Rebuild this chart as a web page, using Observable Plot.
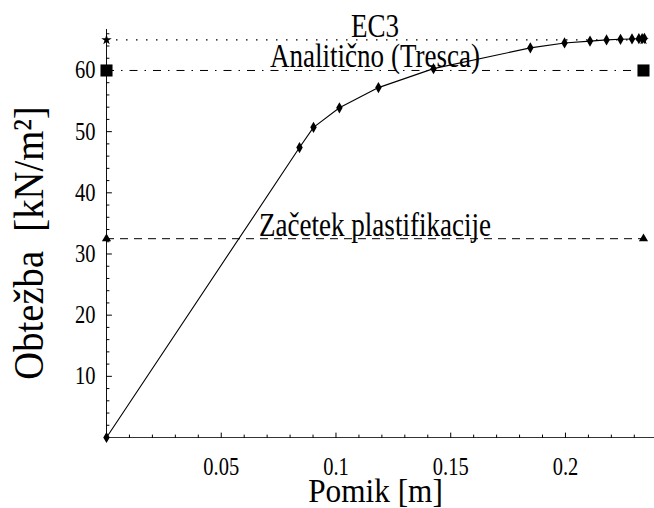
<!DOCTYPE html>
<html>
<head>
<meta charset="utf-8">
<script src="https://cdn.jsdelivr.net/npm/d3@7"></script>
<script src="https://cdn.jsdelivr.net/npm/@observablehq/plot@0.6"></script>
<style>
  body { margin: 0; background: #fff; }
  svg text { white-space: pre; }
</style>
</head>
<body>
<div id="chart"></div>
<script>
// Load–displacement curve (Pomik [m] vs Obtežba [kN/m²])
const dispX = [0, 0.0841, 0.0902, 0.1015, 0.1185, 0.1425, 0.1847, 0.1996, 0.2107, 0.2179, 0.2240, 0.2290, 0.2320, 0.2334, 0.2344];
const load  = [0, 47.4, 50.7, 53.9, 57.2, 60.3, 63.7, 64.5, 64.8, 65.0, 65.1, 65.15, 65.2, 65.2, 65.25];

// Reference levels
const refNames = ["EC3", "Analitično (Tresca)", "Začetek plastifikacije"];
const refLoad = [65, 60, 32.5];
const refEndX = 0.234;

// Axis ticks and labels
const xMajor = [0.05, 0.1, 0.15, 0.2];
const xMajorLabels = ["0.05", "0.1", "0.15", "0.2"];
const xMinor = [0.01, 0.02, 0.03, 0.04, 0.06, 0.07, 0.08, 0.09, 0.11, 0.12, 0.13, 0.14, 0.16, 0.17, 0.18, 0.19, 0.21, 0.22, 0.23];
const yMajor = [10, 20, 30, 40, 50, 60];
const yMajorLabels = ["10", "20", "30", "40", "50", "60"];
const yMinor = [2, 4, 6, 8, 12, 14, 16, 18, 22, 24, 26, 28, 32, 34, 36, 38, 42, 44, 46, 48, 52, 54, 56, 58, 62, 64, 66];
const xDomain = [0, 0.2388];
const yDomain = [0, 71.44];
const yAxisTop = 66.7;
const xTitle = "Pomik [m]";
const yTitle = "Obtežba\u00a0 [kN/m²]";

const curve = dispX.map((x, i) => ({x, y: load[i]}));
const refs = refNames.map((name, i) => ({name, y: refLoad[i]}));
const ends = (r) => [{x: 0, y: r.y}, {x: refEndX, y: r.y}];

// tick shape: a plain line starting at the anchor point
const tickShape = {draw(context, l) { context.moveTo(0, 0); context.lineTo(0, -l); }};
const tickOpts = {shape: tickShape, anchor: "start", stroke: "black", strokeWidth: 1};

const chart = Plot.plot({
  width: 654,
  height: 508,
  marginLeft: 106,
  marginRight: 0,
  marginTop: 0,
  marginBottom: 71,
  x: {domain: xDomain},
  y: {domain: yDomain},
  style: {fontFamily: "'Liberation Serif', 'Times New Roman', serif", background: "white", color: "black", overflow: "visible"},
  marks: [
    // axis lines
    Plot.ruleY([0], {stroke: "#333", strokeWidth: 1}),
    Plot.ruleX([0], {y1: 0, y2: yAxisTop, stroke: "#111", strokeWidth: 1}),
    // ticks (pointing inward)
    Plot.vector(xMajor, {x: d => d, y: () => 0, length: 4.5, rotate: 0, ...tickOpts}),
    Plot.vector(xMinor, {x: d => d, y: () => 0, length: 2.5, rotate: 0, ...tickOpts}),
    Plot.vector(yMajor, {x: () => 0, y: d => d, length: 5, rotate: 90, ...tickOpts}),
    Plot.vector(yMinor, {x: () => 0, y: d => d, length: 2.5, rotate: 90, ...tickOpts}),
    // tick labels
    Plot.axisX({ticks: xMajor, tickSize: 0, tickPadding: 20, lineAnchor: "top", fontSize: 25, label: null,
      tickFormat: d => xMajorLabels[xMajor.indexOf(d)]}),
    Plot.axisY({ticks: yMajor, tickSize: 0, tickPadding: 11, fontSize: 25, label: null,
      tickFormat: d => yMajorLabels[yMajor.indexOf(d)]}),
    // reference lines
    Plot.ruleY([refs[0]], {y: "y", x1: 0, x2: refEndX, stroke: "black", strokeWidth: 1.3, strokeDasharray: "1.5,8.5"}),
    Plot.ruleY([refs[1]], {y: "y", x1: 0, x2: refEndX, stroke: "black", strokeWidth: 1, strokeDasharray: "8,7,1.5,7"}),
    Plot.ruleY([refs[2]], {y: "y", x1: 0, x2: refEndX, stroke: "black", strokeWidth: 1, strokeDasharray: "8,6"}),
    // reference labels
    Plot.text(refs, {x: () => refEndX / 2, y: "y", text: "name", lineAnchor: "bottom", dy: -3, fontSize: 33, fill: "black"}),
    // curve
    Plot.line(curve, {x: "x", y: "y", stroke: "black", strokeWidth: 1.1}),
    Plot.dot(curve, {x: "x", y: "y", symbol: "diamond", r: 3.4, fill: "black", stroke: "none"}),
    // reference markers
    Plot.dot(ends(refs[0]), {x: "x", y: "y", symbol: "star", r: 3.3, fill: "black", stroke: "none"}),
    Plot.dot(ends(refs[1]), {x: "x", y: "y", symbol: "square", r: 6.8, fill: "black", stroke: "none"}),
    Plot.dot(ends(refs[2]), {x: "x", y: "y", symbol: "triangle", r: 3.4, fill: "black", stroke: "none"}),
    // axis titles
    Plot.text([xTitle], {frameAnchor: "bottom", textAnchor: "middle", dx: -5, dy: 64, lineAnchor: "bottom", fontSize: 34, fill: "black"}),
    Plot.text([yTitle], {frameAnchor: "left", textAnchor: "middle", rotate: -90, dx: -64, dy: 24, lineAnchor: "bottom", fontSize: 42, fill: "black"})
  ]
});

// Condensed Times-like look of the original rendering (titles slightly less condensed)
chart.querySelectorAll("text").forEach(t => {
  const tr = t.getAttribute("transform");
  if (!tr) return;
  const isTitle = t.textContent === xTitle || t.textContent === yTitle;
  t.setAttribute("transform", tr + (isTitle ? " scale(0.92,1)" : " scale(0.82,1)"));
});

document.getElementById("chart").appendChild(chart);
</script>
</body>
</html>
